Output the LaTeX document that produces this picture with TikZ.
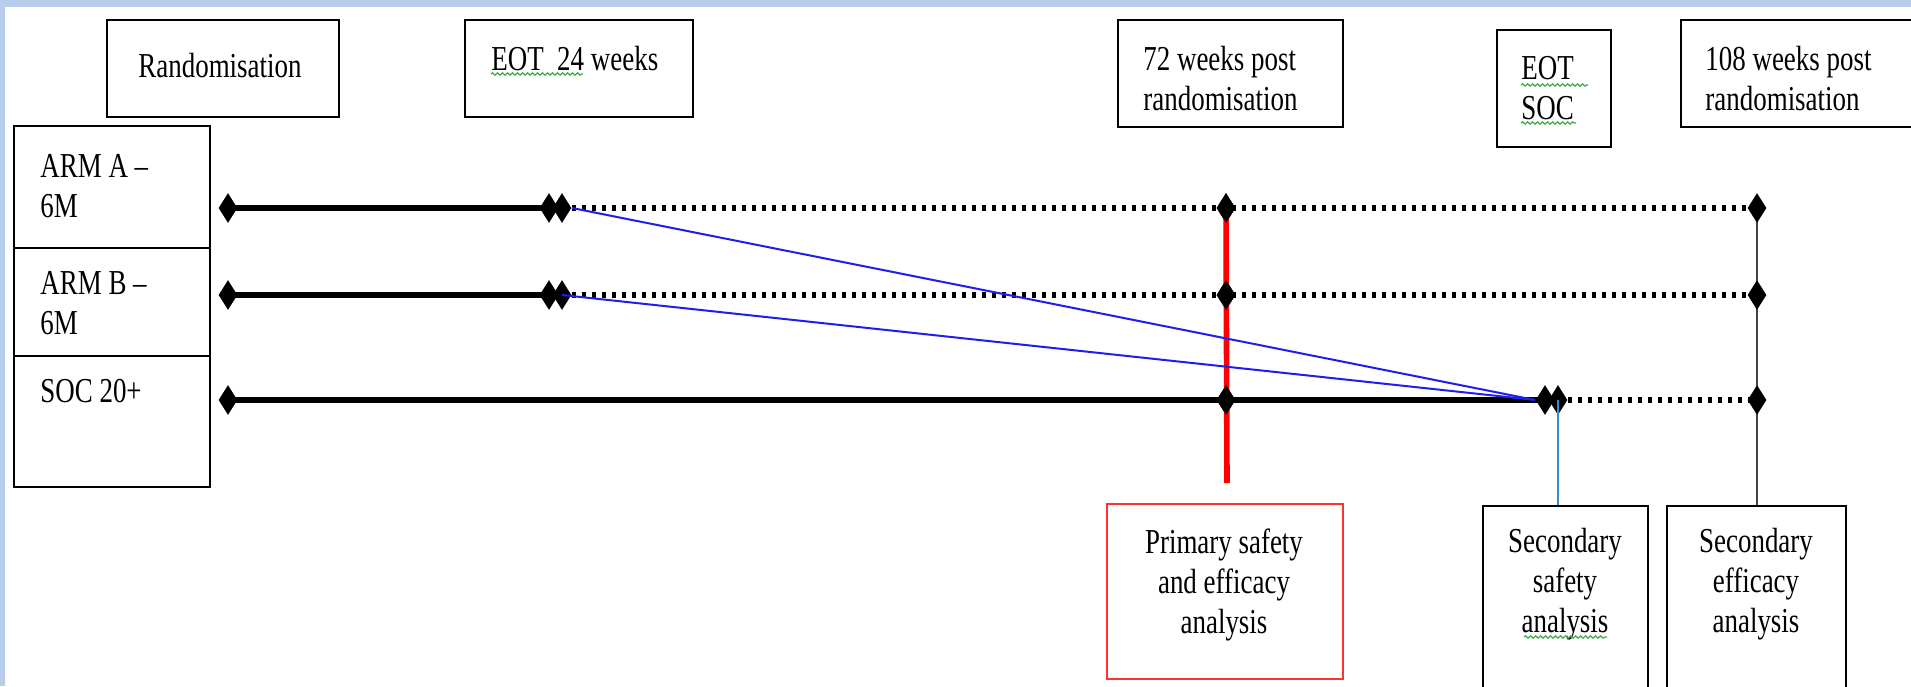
\documentclass[tikz,border=0pt]{standalone}
\usepackage{fontspec}
\setmainfont{Liberation Serif}[FakeStretch=0.77]
\usetikzlibrary{shapes.geometric,decorations.pathmorphing,backgrounds}
\definecolor{frameblue}{RGB}{183,205,234}
\definecolor{bluelink}{RGB}{30,30,240}
\definecolor{skyline}{RGB}{52,140,205}
\definecolor{grayline}{RGB}{70,70,70}
\definecolor{redbox}{RGB}{255,50,50}
\definecolor{spellgreen}{RGB}{60,170,70}
\newcommand{\diagfont}{\fontsize{17.5}{20}\selectfont}
\begin{document}
\begin{tikzpicture}[x=0.5pt,y=-0.5pt,
  box/.style={draw=black, line width=1.1pt, fill=white, inner sep=0, anchor=north west},
  redframe/.style={draw=redbox, line width=1.2pt, fill=white, inner sep=0, anchor=north west},
  txt/.style={inner sep=0, font=\diagfont},
  dia/.style={diamond, fill=black, draw=none, inner sep=0, minimum width=9.5pt, minimum height=15pt},
  solidarm/.style={line width=2.8pt, black},
  dotarm/.style={line width=3pt, black, dash pattern=on 2.2pt off 2.8pt},
  bluelnk/.style={bluelink, line width=1pt},
  spell/.style={spellgreen, line width=0.6pt, decorate, decoration={snake, amplitude=0.6pt, segment length=2.5pt}}
]
\clip (0,0) rectangle (1911,686);

% top boxes
\node[box, minimum width=116pt, minimum height=48.5pt] (rand) at (106,19) {};
\node[txt, anchor=base] (randt) at (220,77) {Randomisation};
\node[box, minimum width=114pt, minimum height=48.5pt] (eot24) at (464,19) {};
\node[txt, anchor=base west] (eot24t) at (491,70) {EOT\ \ 24 weeks};
\node[box, minimum width=112.5pt, minimum height=53.5pt] (w72) at (1117,19) {};
\node[txt, anchor=base west, align=left] (w72t) at (1143,110) {72 weeks post\\randomisation};
\node[box, minimum width=57pt, minimum height=58.5pt] (eotsoc) at (1496,29) {};
\node[txt, anchor=base west, align=left] (eotsoct) at (1521,119) {EOT\\SOC};
\node[box, minimum width=130pt, minimum height=53.5pt] (w108) at (1680,19) {};
\node[txt, anchor=base west, align=left] (w108t) at (1705,110) {108 weeks post\\randomisation};

% arms table
\node[box, minimum width=98pt, minimum height=61pt] (armA) at (13,125) {};
\node[box, minimum width=98pt, minimum height=54pt] (armB) at (13,247) {};
\node[box, minimum width=98pt, minimum height=65.5pt] (armS) at (13,355) {};
\node[txt, anchor=base west, align=left] (armAt) at (40,217) {ARM A –\\6M};
\node[txt, anchor=base west, align=left] (armBt) at (40,334) {ARM B –\\6M};
\node[txt, anchor=base west] (armSt) at (40,402) {SOC 20+};

% analysis boxes
\node[redframe, minimum width=118pt, minimum height=87.5pt] (prim) at (1106,503) {};
\node[txt, anchor=base, align=center] (primt) at (1224,633) {Primary safety\\and efficacy\\analysis};
\node[box, minimum width=82.5pt, minimum height=100pt] (secsaf) at (1482,505) {};
\node[txt, anchor=base, align=center] (secsaft) at (1565,632) {Secondary\\safety\\analysis};
\node[box, minimum width=89.5pt, minimum height=100pt] (seceff) at (1666,505) {};
\node[txt, anchor=base, align=center] (secefft) at (1756,632) {Secondary\\efficacy\\analysis};

% spelling marks
\draw[spell] (491,74) -- (583,74);
\draw[spell] (1521,85) -- (1588,85);
\draw[spell] (1521,123) -- (1576,123);
\draw[spell] (1524,637) -- (1607,637);

% diamonds
\node[dia] (dA0) at (228,208) {};
\node[dia] (dA1) at (549,208) {};
\node[dia] (dA2) at (562,208) {};
\node[dia] (dA3) at (1226,208) {};
\node[dia] (dA4) at (1757,208) {};
\node[dia] (dB0) at (228,295) {};
\node[dia] (dB1) at (549,295) {};
\node[dia] (dB2) at (562,295) {};
\node[dia] (dB3) at (1226,295) {};
\node[dia] (dB4) at (1757,295) {};
\node[dia] (dS0) at (228,400) {};
\node[dia] (dS1) at (1226,400) {};
\node[dia] (dS2) at (1545,400) {};
\node[dia] (dS3) at (1558,400) {};
\node[dia] (dS4) at (1757,400) {};
\coordinate (redbot) at (1227,483);

\begin{pgfonlayer}{background}
\fill[white] (0,0) rectangle (1911,686);
\fill[frameblue] (0,0) rectangle (1911,7);
\fill[frameblue] (0,0) rectangle (5,686);
\draw[solidarm] (dA0.center) -- (dA1.center);
\draw[dotarm] (dA2.center) -- (dA4.center);
\draw[solidarm] (dB0.center) -- (dB1.center);
\draw[dotarm] (dB2.center) -- (dB4.center);
\draw[solidarm] (dS0.center) -- (dS2.center);
\draw[dotarm] (dS3.center) -- (dS4.center);
\draw[grayline, line width=1pt] (dA4.center) -- (dA4.center |- seceff.north);
\end{pgfonlayer}
\draw[red, line width=2.8pt] (dA3.center) -- (redbot);
\node[dia] at (dA3) {};
\node[dia] at (dB3) {};
\node[dia] at (dS1) {};
\draw[bluelnk] (dA2.east) -- (dS2.west);
\draw[bluelnk] (dB2.center) -- (dS2.west);
\draw[skyline, line width=0.8pt] (dS3.center) -- (dS3.center |- secsaf.north);
\end{tikzpicture}
\end{document}
